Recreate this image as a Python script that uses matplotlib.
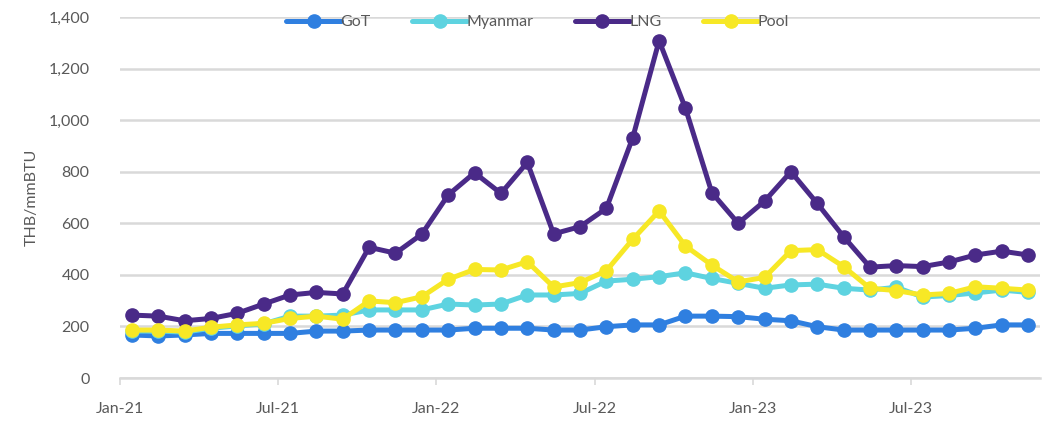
import numpy as np
import matplotlib
matplotlib.use("Agg")
import matplotlib.pyplot as plt

# monthly prices, Jan-21 .. Nov-23 (THB/mmBTU)
months = ["Jan-21", "Feb-21", "Mar-21", "Apr-21", "May-21", "Jun-21",
          "Jul-21", "Aug-21", "Sep-21", "Oct-21", "Nov-21", "Dec-21",
          "Jan-22", "Feb-22", "Mar-22", "Apr-22", "May-22", "Jun-22",
          "Jul-22", "Aug-22", "Sep-22", "Oct-22", "Nov-22", "Dec-22",
          "Jan-23", "Feb-23", "Mar-23", "Apr-23", "May-23", "Jun-23",
          "Jul-23", "Aug-23", "Sep-23", "Oct-23", "Nov-23"]

got = [167, 163, 167, 173, 173, 173, 173, 182, 182, 186, 186, 186,
       186, 193, 193, 193, 186, 186, 199, 206, 206, 240, 240, 238,
       228, 222, 199, 186, 186, 186, 186, 186, 193, 206, 206]
myanmar = [182, 182, 178, 193, 202, 210, 240, 240, 244, 264, 264, 264,
           287, 283, 287, 322, 322, 328, 376, 383, 393, 408, 386, 367,
           348, 361, 364, 348, 341, 352, 314, 320, 330, 341, 332]
lng = [244, 240, 222, 231, 251, 287, 322, 332, 326, 507, 484, 558,
       710, 796, 716, 836, 559, 587, 658, 932, 1308, 1046, 719, 600,
       686, 800, 677, 548, 430, 436, 432, 450, 477, 492, 477]
pool = [186, 186, 182, 197, 206, 212, 231, 240, 228, 299, 292, 315,
        383, 421, 419, 451, 353, 370, 416, 538, 648, 512, 438, 373,
        390, 494, 498, 432, 348, 339, 322, 328, 354, 348, 341]

series = [("GoT", got, "#2F7FE0"),
          ("Myanmar", myanmar, "#5ED3E0"),
          ("LNG", lng, "#4A2A88"),
          ("Pool", pool, "#F7E826")]

txt = "#595959"
plt.rcParams["font.family"] = ["Lato", "DejaVu Sans"]

fig = plt.figure(figsize=(10.48, 4.21), dpi=100)
ax = fig.add_axes([0.1145, 0.1021, 0.8779, 0.8575])

x = np.arange(len(months)) + 0.45
for name, vals, col in series:
    ax.plot(x, vals, color=col, lw=3.6, marker="o", ms=9.5, label=name,
            solid_capstyle="round")

ax.set_xlim(0, 34.9)
ax.set_ylim(0, 1400)
ax.set_yticks(np.arange(0, 1401, 200))
ax.set_yticklabels([f"{v:,}" for v in range(0, 1401, 200)])
ax.set_xticks(np.arange(0, 35, 6))
ax.set_xticklabels(months[::6])

ax.grid(axis="y", color="#D9D9D9", lw=1.8)
ax.set_axisbelow(True)
for s in ["top", "right", "left"]:
    ax.spines[s].set_visible(False)
ax.spines["bottom"].set_color("#D9D9D9")
ax.spines["bottom"].set_linewidth(1.8)

ax.tick_params(axis="y", length=0, pad=22, labelsize=11.5, labelcolor=txt)
ax.tick_params(axis="x", length=5, width=1.2, color="#D9D9D9", pad=12,
               labelsize=11.5, labelcolor=txt)
ax.set_ylabel("THB/mmBTU", fontsize=11.5, color=txt, labelpad=7)

leg = ax.legend(loc="upper center", bbox_to_anchor=(0.454, 1.045), ncol=4,
                frameon=False, fontsize=11.5, handlelength=3.4,
                handletextpad=0.0, columnspacing=2.6)
for t in leg.get_texts():
    t.set_color(txt)

fig.savefig("out.png", dpi=100)
